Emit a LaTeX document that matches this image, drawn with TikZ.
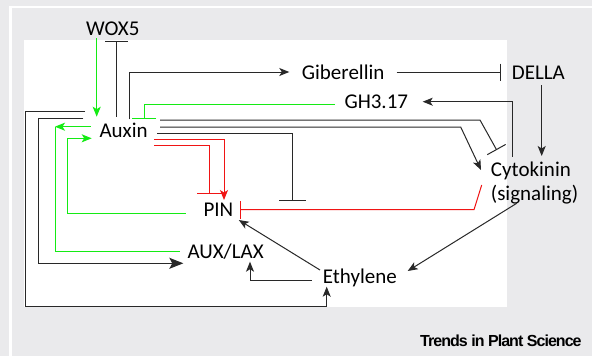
\documentclass[tikz,border=0pt]{standalone}
\usepackage{fontspec}
\setmainfont{Carlito}
\newfontfamily\trendsfont[LetterSpace=-6]{Liberation Sans}
\usepackage{xcolor}
\usetikzlibrary{arrows.meta}

\definecolor{panelgray}{RGB}{234,234,236}
\definecolor{grn}{RGB}{20,235,20}
\definecolor{rd}{RGB}{240,20,20}
\definecolor{dk}{RGB}{40,40,40}

\begin{document}
\begin{tikzpicture}[x=1pt,y=-1pt,>={Stealth[length=10pt,width=8pt,inset=2.5pt]},
  every node/.style={inner sep=0pt,anchor=base west,font=\fontsize{21}{24}\selectfont},
  act/.style={->,dk,line width=1pt},
  inh/.style={-{Bar[width=#1]},dk,line width=1pt},inh/.default=22pt,
  grnact/.style={->,grn,line width=1pt},
  grninh/.style={-{Bar[width=#1]},grn,line width=1pt},grninh/.default=22pt,
  grnline/.style={grn,line width=1pt},
  redact/.style={->,rd,line width=1pt},
  redinh/.style={-{Bar[width=#1]},rd,line width=1pt},redinh/.default=22pt]
  % panel
  \fill[panelgray] (0,0) rectangle (592,356);
  \fill[white] (9,6) rectangle (592,7.5);
  \fill[white] (9,6) rectangle (11.5,356);
  \fill[white] (24,40) rectangle (507,307);
  \useasboundingbox (0,0) rectangle (592,356);

  \node (wox)   at (86,35)     {WOX5};
  \node (gib)   at (301.7,79)  {Giberellin};
  \node (della) at (511.7,79)  {DELLA};
  \node (gh)    at (344.3,108) {GH3.17};
  \node (aux)   at (99.3,137)  {Auxin};
  \node[align=left] (cyt) at (490.7,200) {Cytokinin\\(signaling)};
  \node (pin)   at (203.3,216) {PIN};
  \node (lax)   at (187.3,258) {AUX/LAX};
  \node (eth)   at (322.7,283) {Ethylene};
  \node[font=\trendsfont\bfseries\fontsize{16}{16}\selectfont] (logo) at (420,346.5) {Trends in Plant Science};

  % top: WOX5, giberellin, DELLA, GH3.17
  \draw[grnact] ([shift={(10.7,3)}]wox.base west) -- ([shift={(-2.6,-20.3)}]aux.base west);
  \draw[inh=23pt] ([shift={(17.4,-20.3)}]aux.base west) -- ([shift={(30.7,6)}]wox.base west);
  \draw[act] ([shift={(30,-17.7)}]aux.base west) |- ([shift={(-12.4,-7)}]gib.base west);
  \draw[inh=17pt] ([shift={(95,-7)}]gib.base west) -- ([shift={(-11,-7)}]della.base west);
  \draw[act] ([shift={(30,6)}]della.base west) -- ([shift={(51,-44)}]cyt.base west);
  \draw[act] ([shift={(21.6,-43.3)}]cyt.base west) |- ([shift={(78.4,-6.3)}]gh.base west);
  \draw[grninh=24pt] ([shift={(-9.3,-3.7)}]gh.base west) -| ([shift={(44.7,-18)}]aux.base west);

  % auxin to cytokinin and PIN
  \draw[inh=21pt] ([shift={(60.7,-17)}]aux.base west) -- (480,120) -- ([shift={(6,-50)}]cyt.base west);
  \draw[act] ([shift={(60.7,-10)}]aux.base west) -- (460.7,127) -- ([shift={(-9.7,-30)}]cyt.base west);
  \draw[inh=27pt] ([shift={(58,-3.7)}]aux.base west) -| ([shift={(88.7,-15)}]pin.base west);
  \draw[redact] ([shift={(54.7,2.3)}]aux.base west) -| ([shift={(20.7,-16)}]pin.base west);
  \draw[redinh=25pt] ([shift={(54.7,8.7)}]aux.base west) -| ([shift={(6,-21.7)}]pin.base west);
  \draw[redinh=18pt] ([shift={(-9,-15)}]cyt.base west) -- (474,209.7) -- ([shift={(36.7,-6.3)}]pin.base west);

  % ethylene
  \draw[act] ([shift={(-2.7,-13)}]eth.base west) -- ([shift={(35.5,4)}]pin.base west);
  \draw[act] ([shift={(-11,-3)}]eth.base west) -| ([shift={(62.7,3.7)}]lax.base west);
  \draw[act] ([shift={(26,3.3)}]cyt.base west) -- ([shift={(85,-12)}]eth.base west);

  % long loops on the left
  \draw[act] ([shift={(-14.3,-26)}]aux.base west) -- (25.5,111) -- (25.5,306) -| ([shift={(4,3.7)}]eth.base west);
  \draw[act,>={Stealth[length=14pt,width=11pt,inset=3pt]}] ([shift={(-16,-18.7)}]aux.base west) -- (38.5,118.3) |- ([shift={(-4,5.3)}]lax.base west);
  \coordinate (gcorner) at (55,126.7);
  \draw[grnact] ([shift={(-8.6,-10.3)}]aux.base west) -- (gcorner);
  \draw[grnline] (gcorner) |- ([shift={(-7.3,-6.3)}]lax.base west);
  \draw[grnact] ([shift={(-17.6,-2.7)}]pin.base west) -| (67,138.3) -- ([shift={(-7.6,1.3)}]aux.base west);
\end{tikzpicture}
\end{document}
